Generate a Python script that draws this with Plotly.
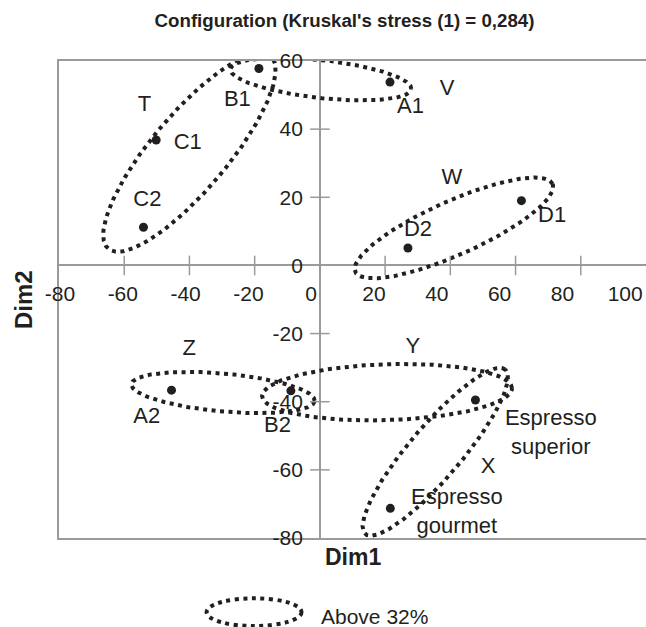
import numpy as np
import plotly.graph_objects as go

# ---------------- data ----------------
point_names = ["B1", "A1", "C1", "C2", "D1", "D2", "A2", "B2",
               "Espresso superior", "Espresso gourmet"]
dim1 = [-18.7, 21.5, -50.2, -54.1, 61.8, 27.0, -45.5, -8.9, 47.7, 21.6]
dim2 = [57.8, 53.8, 36.8, 11.2, 19.0, 5.1, -36.6, -36.8, -39.5, -71.3]

label_text = ["B1", "A1", "C1", "C2", "D1", "D2", "A2", "B2",
              "Espresso<br>superior", "Espresso<br>gourmet"]
label_x = [-25.3, 27.8, -40.5, -52.9, 71.2, 30.1, -53.1, -13.0, 70.8, 42.0]
label_y = [48.3, 46.4, 35.7, 19.1, 14.5, 10.3, -44.7, -47.4, -49.5, -72.6]

group_names = ["T", "V", "W", "Z", "Y", "X"]
group_label_x = [-53.8, 39.0, 40.5, -40.1, 28.5, 51.6]
group_label_y = [46.9, 51.7, 25.4, -24.6, -24.1, -59.3]

# ellipse geometry: centre (data units), semi-axes (pixels), rotation (deg)
ell_cx = [-40.0, 0.3, 41.1, -29.7, 20.6, 35.4]
ell_cy = [33.2, 54.7, 11.0, -37.3, -37.2, -54.7]
ell_a = [126, 91, 108, 92, 125, 108]
ell_b = [38, 19, 27, 19, 28, 26]
ell_ang = [49.9, -6.3, 24.0, -5.2, 1.8, 49.6]

x_ticks = [-80, -60, -40, -20, 0, 20, 40, 60, 80, 100]
x_tick_text = ["-80", "-60", "-40", "-20", "0", "20", "40", "60", "80", "100"]
y_ticks = [-80, -60, -40, -20, 0, 20, 40, 60]
y_tick_text = ["-80", "-60", "-40", "-20", "0", "20", "40", "60"]
x_cross = [-60, -40, -20, 20, 40, 60, 80]
y_cross = [-60, -40, -20, 20, 40]

legend_text = "Above 32%"
title_text = "Configuration (Kruskal's stress (1) = 0,284)"

# ---------------- layout constants ----------------
W, H = 646, 627
ML, MR, MT, MB = 59, 0, 61, 89
XR = [-80, 100]
YR = [-80, 60]
pw, ph = W - ML - MR, H - MT - MB
sx = pw / (XR[1] - XR[0])
sy = ph / (YR[1] - YR[0])

FONT = "Liberation Sans, Arial, Helvetica, sans-serif"
GRAY = "#9a9a9a"
INK = "#231f20"
DOT = "4px,4.5px"

fig = go.Figure()

# dotted ellipses
t = np.linspace(0, 2 * np.pi, 361)
for cx, cy, a, b, ang in zip(ell_cx, ell_cy, ell_a, ell_b, ell_ang):
    th = np.deg2rad(ang)
    dxp = a * np.cos(t) * np.cos(th) - b * np.sin(t) * np.sin(th)
    dyp = a * np.cos(t) * np.sin(th) + b * np.sin(t) * np.cos(th)
    fig.add_trace(go.Scatter(x=cx + dxp / sx, y=cy + dyp / sy, mode="lines",
                             line=dict(color=INK, width=4, dash=DOT),
                             hoverinfo="skip", showlegend=False))

# tick crosses
fig.add_trace(go.Scatter(x=x_cross, y=[0] * len(x_cross), mode="markers",
                         marker=dict(symbol="line-ns", size=14,
                                     line=dict(color=GRAY, width=1.5)),
                         hoverinfo="skip", showlegend=False))
fig.add_trace(go.Scatter(x=[0] * len(y_cross), y=y_cross, mode="markers",
                         marker=dict(symbol="line-ew", size=14,
                                     line=dict(color=GRAY, width=1.5)),
                         hoverinfo="skip", showlegend=False))

# points
fig.add_trace(go.Scatter(x=dim1, y=dim2, mode="markers", text=point_names,
                         marker=dict(color=INK, size=9),
                         showlegend=False))

# point labels
fig.add_trace(go.Scatter(x=label_x, y=label_y, mode="text", text=label_text,
                         textposition="middle center", cliponaxis=False,
                         textfont=dict(family=FONT, size=22, color=INK),
                         hoverinfo="skip", showlegend=False))
# group labels
fig.add_trace(go.Scatter(x=group_label_x, y=group_label_y, mode="text",
                         text=group_names, textposition="middle center",
                         cliponaxis=False,
                         textfont=dict(family=FONT, size=22, color=INK),
                         hoverinfo="skip", showlegend=False))

# invisible traces to hold the label axes
fig.add_trace(go.Scatter(x=[0], y=[0], xaxis="x2", yaxis="y", mode="markers",
                         marker=dict(opacity=0), hoverinfo="skip", showlegend=False))
fig.add_trace(go.Scatter(x=[0], y=[0], xaxis="x", yaxis="y2", mode="markers",
                         marker=dict(opacity=0), hoverinfo="skip", showlegend=False))

# x tick labels sit slightly off their ticks in the reference
LAB0, LABS = 60.0, 3.14
lab_left = -80 + (ML - LAB0) / LABS
lab_right = -80 + (W - MR - LAB0) / LABS

fig.update_layout(
    width=W, height=H,
    margin=dict(l=ML, r=MR, t=MT, b=MB),
    paper_bgcolor="white", plot_bgcolor="white",
    font=dict(family=FONT, color=INK),
    title=dict(text=title_text, x=344.5 / W, xanchor="center",
               y=1 - 20 / H, yanchor="middle",
               font=dict(family=FONT, size=18.7, weight="bold", color=INK)),
    xaxis=dict(range=XR, showline=True, mirror=True, linecolor=GRAY, linewidth=2,
               zeroline=True, zerolinecolor=GRAY, zerolinewidth=2,
               showgrid=False, showticklabels=False, ticks=""),
    yaxis=dict(range=YR, showline=True, mirror=False, linecolor=GRAY, linewidth=2,
               zeroline=True, zerolinecolor=GRAY, zerolinewidth=2,
               showgrid=False, showticklabels=False, ticks=""),
    xaxis2=dict(overlaying="x", anchor="free", position=(0 - YR[0]) / (YR[1] - YR[0]),
                range=[lab_left, lab_right], side="bottom",
                tickmode="array", tickvals=x_ticks, ticktext=x_tick_text,
                showline=False, showgrid=False, zeroline=False, ticks="",
                ticklabelstandoff=14,
                tickfont=dict(family=FONT, size=21, color=INK)),
    yaxis2=dict(overlaying="y", anchor="free", position=(0 - XR[0]) / (XR[1] - XR[0]),
                range=YR, side="left",
                tickmode="array", tickvals=y_ticks, ticktext=y_tick_text,
                showline=False, showgrid=False, zeroline=False, ticks="",
                ticklabelstandoff=17,
                tickfont=dict(family=FONT, size=21, color=INK)),
    shapes=[dict(type="circle", xref="paper", yref="paper",
                 x0=(206.6 - ML) / pw, x1=(301.5 - ML) / pw,
                 y0=(MT + ph - 626) / ph, y1=(MT + ph - 598.3) / ph,
                 line=dict(color=INK, width=4, dash=DOT))],
    annotations=[
        dict(text=legend_text, xref="paper", yref="paper",
             x=(319 - ML) / pw, y=(MT + ph - 616) / ph,
             xanchor="left", yanchor="middle", showarrow=False,
             font=dict(family=FONT, size=21, color=INK)),
        dict(text="Dim1", xref="paper", yref="paper",
             x=(353 - ML) / pw, y=(MT + ph - 557) / ph,
             xanchor="center", yanchor="middle", showarrow=False,
             font=dict(family=FONT, size=23, weight="bold", color=INK)),
        dict(text="Dim2", xref="paper", yref="paper",
             x=(23 - ML) / pw, y=(MT + ph - 300) / ph, textangle=-90,
             xanchor="center", yanchor="middle", showarrow=False,
             font=dict(family=FONT, size=24, weight="bold", color=INK)),
    ],
)

fig.write_html("out.html")
